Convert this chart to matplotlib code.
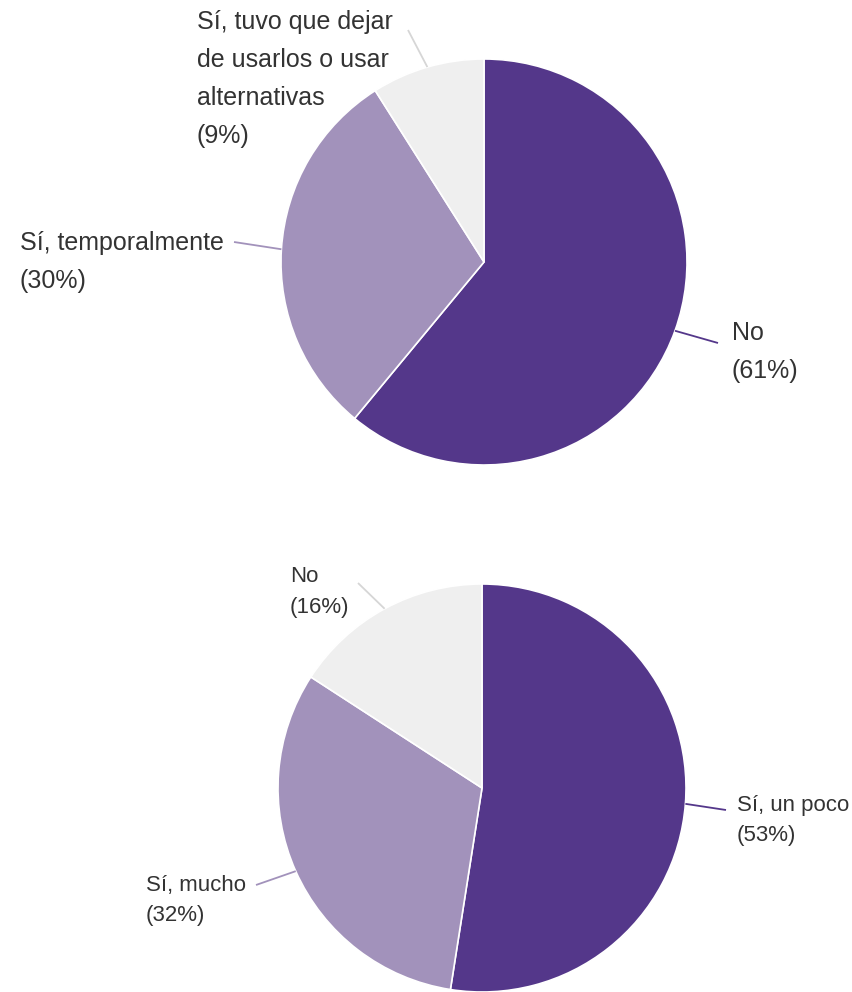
import numpy as np
import matplotlib
matplotlib.use("Agg")
import matplotlib.pyplot as plt

# ---- data ----
top_labels = ["No", "Sí, temporalmente", "Sí, tuvo que dejar\nde usarlos o usar\nalternativas"]
top_values = [61, 30, 9]

bottom_labels = ["Sí, un poco", "Sí, mucho", "No"]
bottom_values = [53, 32, 16]

colors = ["#54378A", "#A292BB", "#EFEFEF"]
line_colors = ["#54378A", "#A292BB", "#D6D6D6"]
text_color = "#333333"

W, H = 853, 992
fig = plt.figure(figsize=(W / 100, H / 100), dpi=100)
ax = fig.add_axes([0, 0, 1, 1])
ax.set_xlim(0, W)
ax.set_ylim(0, H)
ax.axis("off")


def Y(y):
    return H - y


def draw_pie(values, labels, center, radius, label_pos, line_end, fontsize, spacing):
    cx, cy = center
    wedges, _ = ax.pie(values, colors=colors, startangle=90, counterclock=False,
                       center=(cx, Y(cy)), radius=radius, frame=True,
                       wedgeprops=dict(edgecolor="white", linewidth=1.2))
    total = float(sum(values))
    cum = 0.0
    for i, (v, lab) in enumerate(zip(values, labels)):
        mid = (cum + v / 2.0) / total
        cum += v
        theta = np.deg2rad(90 - 360 * mid)
        sx = cx + radius * np.cos(theta)
        sy = Y(cy) + radius * np.sin(theta)
        ex, ey = line_end[i]
        ax.plot([sx, ex], [sy, Y(ey)], color=line_colors[i], lw=1.3,
                solid_capstyle="butt", zorder=1)
        pct = int(round(100 * v / total)) if False else v
        lines = lab.split("\n") + ["(%d%%)" % v]
        lx, ly = label_pos[i]
        for k, t in enumerate(lines):
            ax.text(lx, Y(ly + k * spacing), t, fontsize=fontsize, color=text_color,
                    family="Liberation Sans", va="center", ha="left")


draw_pie(top_values, top_labels, center=(484, 262), radius=203,
         label_pos=[(732, 333), (20, 243), (197, 22)],
         line_end=[(718, 343), (234, 242), (408, 30)],
         fontsize=18, spacing=38)

draw_pie(bottom_values, bottom_labels, center=(482, 788), radius=204,
         label_pos=[(737, 805), (146, 885), (290, 576)],
         line_end=[(726, 810), (256, 885), (358, 583)],
         fontsize=16, spacing=31)

ax.set_xlim(0, W)
ax.set_ylim(0, H)
ax.set_aspect("auto")
ax.axis("off")

fig.savefig("out.png", dpi=100, facecolor="white")
